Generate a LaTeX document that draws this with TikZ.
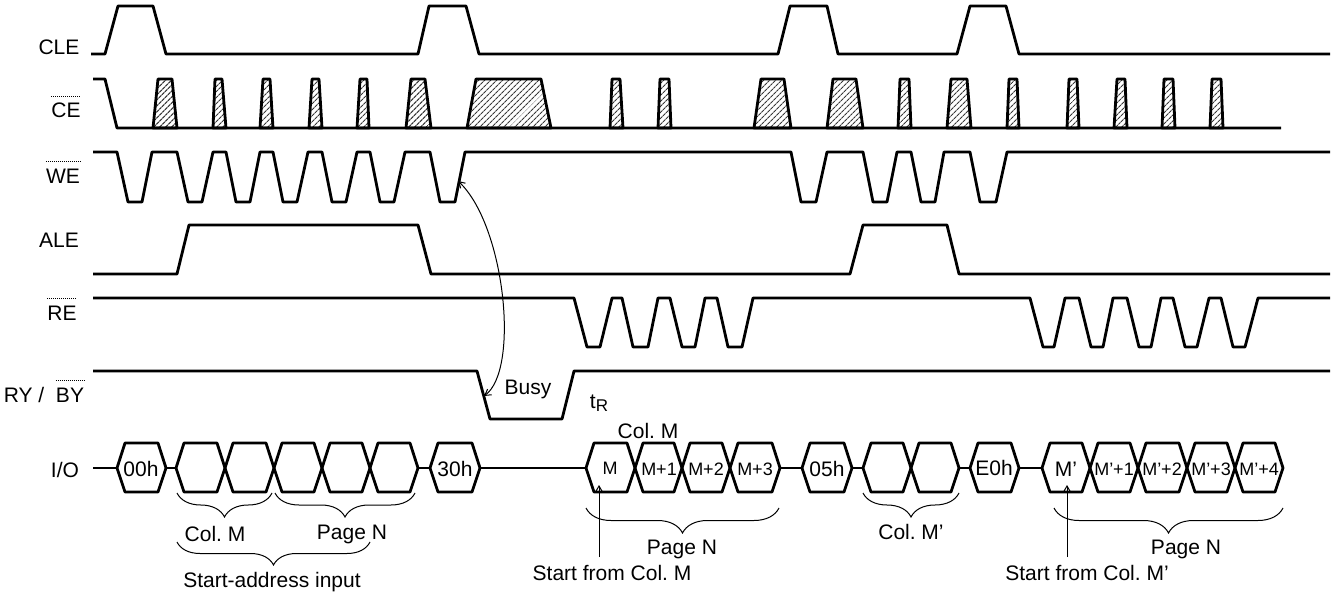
\documentclass[tikz,border=0pt]{standalone}
\usepackage{fontspec}
\setmainfont{Liberation Sans}
\usetikzlibrary{arrows.meta,decorations.pathreplacing,patterns.meta}
\frenchspacing
\begin{document}
\begin{tikzpicture}[x=1pt,y=-1pt,
  sig/.style={line width=2.8pt,line join=round},
  hatch/.style={pattern={Lines[angle=45,distance=4pt,line width=1.2pt]},pattern color=gray!45!black},
  lbl/.style={inner sep=0pt,font=\fontsize{21}{25}\selectfont},
  hx/.style={inner sep=0pt,font=\fontsize{21}{25}\selectfont},
  hxs/.style={inner sep=0pt,font=\fontsize{18}{21}\selectfont},
  ovl/.style={line width=0.6pt,dash pattern=on 1.2pt off 0.8pt},
  brc/.style={line width=1pt,decorate,decoration={brace,mirror,amplitude=#1}},
  arr/.style={line width=1pt,-{Straight Barb[length=6pt,width=7pt]}}
]
\useasboundingbox (0,0) rectangle (1335,593);

% ---- labels ----
\node[lbl] (cle) at (59,47) {CLE};
\node[lbl] (ce) at (66,110) {CE};
\draw[ovl] ([yshift=6pt]ce.north west) -- ([yshift=6pt]ce.north east);
\node[lbl] (we) at (63,176) {WE};
\draw[ovl] ([yshift=7pt]we.north west) -- ([yshift=7pt]we.north east);
\node[lbl] (ale) at (59,240) {ALE};
\node[lbl] (re) at (62,313) {RE};
\draw[ovl] ([yshift=7pt]re.north west) -- ([yshift=7pt]re.north east);
\node[lbl] (ry) at (24,395) {RY /};
\node[lbl] (by) at (70,395) {BY};
\draw[ovl] ([yshift=7pt]by.north west) -- ([yshift=7pt]by.north east);
\node[lbl] (io) at (65,470) {I/O};

% ---- CLE ----
\draw[sig] (91,54) -- (105,54) -- (118,6) -- (153,6) -- (166,54) -- (418,54) -- (429,6) -- (466,6) -- (479,54) -- (778,54) -- (790,6) -- (827,6) -- (838,54) -- (957,54) -- (970,6) -- (1006,6) -- (1019,54) -- (1330,54);

% ---- CE ----
\foreach \a/\b/\c/\d in {153/158/172/177,213/215/222/226,260/263/270/273,309/312/319/322,357/360/367/369,406/411/425/431,467/476/541/551,610/612/620/623,658/660/669/671,754/761/784/791,827/833/856/863,898/900/909/911,947/951/967/971,1007/1009/1017/1019,1067/1069/1077/1079,1114/1117/1125/1127,1162/1164/1173/1175,1210/1212/1221/1223}
  \draw[sig,hatch] (\a,128) -- (\b,79) -- (\c,79) -- (\d,128) -- cycle;
\draw[sig] (93,79) -- (105,79) -- (117,128) -- (1281,128);

% ---- WE ----
\draw[sig] (93,152) -- (117,152) -- (128,202) -- (142,202) -- (152,152) -- (177,152) -- (188,202) -- (202,202) -- (213,152) -- (226,152) -- (236,202) -- (250,202) -- (260,152) -- (273,152) -- (283,202) -- (297,202) -- (308,152) -- (322,152) -- (332,202) -- (346,202) -- (357,152) -- (370,152) -- (380,202) -- (394,202) -- (405,152) -- (430,152) -- (440,202) -- (455,202) -- (465,152) -- (791,152) -- (801,202) -- (816,202) -- (827,152) -- (863,152) -- (873,202) -- (887,202) -- (897,152) -- (911,152) -- (921,202) -- (935,202) -- (944,152) -- (970,152) -- (980,202) -- (996,202) -- (1007,152) -- (1330,152);

% ---- ALE ----
\draw[sig] (93,274) -- (177,274) -- (189,225) -- (418,225) -- (431,274) -- (850,274) -- (863,225) -- (947,225) -- (959,274) -- (1330,274);

% ---- RE ----
\draw[sig] (93,298) -- (574,298) -- (587,347) -- (600,347) -- (612,298) -- (622,298) -- (633,347) -- (648,347) -- (658,298) -- (670,298) -- (682,347) -- (695,347) -- (705,298) -- (717,298) -- (728,347) -- (742,347) -- (753,298) -- (1030,298) -- (1043,347) -- (1054,347) -- (1065,298) -- (1079,298) -- (1091,347) -- (1103,347) -- (1113,298) -- (1127,298) -- (1139,347) -- (1151,347) -- (1161,298) -- (1173,298) -- (1185,347) -- (1197,347) -- (1209,298) -- (1221,298) -- (1233,347) -- (1245,347) -- (1258,298) -- (1330,298);

% ---- RY/BY ----
\draw[sig] (93,371) -- (477,371) -- (490,419) -- (562,419) -- (574,371) -- (1330,371);
\node[lbl] (busy) at (528,389) {Busy};
\node[lbl] (tr) at (599,403) {t\raisebox{-3pt}{\fontsize{17}{20}\selectfont R}};

% ---- curved arrow ----
\coordinate (weR) at (458,181);
\coordinate (ryF) at (484,396);
\draw[line width=1pt,{Straight Barb[length=6pt,width=7pt]}-{Straight Barb[length=6pt,width=7pt]}] (weR) .. controls (505,225) and (520,370) .. (ryF);

% ---- I/O bus ----
\draw[sig] (93,468) -- (117,468);
\draw[sig] (166,468) -- (176,468);
\draw[sig] (418,468) -- (430,468);
\draw[sig] (480,468) -- (586,468);
\draw[sig] (780,468) -- (802,468);
\draw[sig] (852,468) -- (863,468);
\draw[sig] (959,468) -- (970,468);
\draw[sig] (1019,468) -- (1042,468);
\foreach \a/\b in {117/166,176/225,225/274,274/322,322/370,370/418,430/480,586/635,635/682,682/730,730/780,802/852,863/911,911/959,970/1019,1042/1090,1090/1138,1138/1187,1187/1235,1235/1283}
  \draw[sig] (\a,468) -- (\a+8,443) -- (\b-8,443) -- (\b,468) -- (\b-8,492) -- (\a+8,492) -- cycle;

\node[hx] (h00) at (141,469) {00h};
\node[hx] (h30) at (455,469) {30h};
\node[hxs] (hm) at (610,468) {M};
\node[hxs] (hm1) at (659,469) {M+1};
\node[hxs] (hm2) at (706,469) {M+2};
\node[hxs] (hm3) at (755,469) {M+3};
\node[hx] (h05) at (827,469) {05h};
\node[hx] (he0) at (994,468) {E0h};
\node[hx] (hmp) at (1066,469) {M’};
\node[hxs] (hmp1) at (1114,469) {M’+1};
\node[hxs] (hmp2) at (1162,469) {M’+2};
\node[hxs] (hmp3) at (1211,469) {M’+3};
\node[hxs] (hmp4) at (1259,469) {M’+4};

\node[lbl] (colm) at (648,431) {Col. M};

% ---- braces ----
\draw[brc=24pt] (177,493) -- (272,493);
\draw[brc=24pt] (275,493) -- (415,493);
\draw[brc=23pt] (177,542) -- (370,542);
\draw[brc=25pt] (586,508) -- (779,508);
\draw[brc=24pt] (863,493) -- (959,493);
\draw[brc=25pt] (1054,508) -- (1283,508);

\node[lbl] (colm1) at (215,534) {Col. M};
\node[lbl] (pagen1) at (352,534) {Page N};
\node[lbl] (sai) at (272,582) {Start-address input};
\node[lbl] (pagen2) at (682,549) {Page N};
\node[lbl] (sfm) at (612,573) {Start from Col. M};
\node[lbl] (colmp) at (911,532) {Col. M’};
\node[lbl] (pagen3) at (1186,549) {Page N};
\node[lbl] (sfmp) at (1087,573) {Start from Col. M’};

% ---- start arrows ----
\coordinate (a1s) at (599,557);
\coordinate (a1e) at (599,485);
\coordinate (a2s) at (1067,557);
\coordinate (a2e) at (1067,485);
\draw[arr] (a1s) -- (a1e);
\draw[arr] (a2s) -- (a2e);
\end{tikzpicture}
\end{document}
